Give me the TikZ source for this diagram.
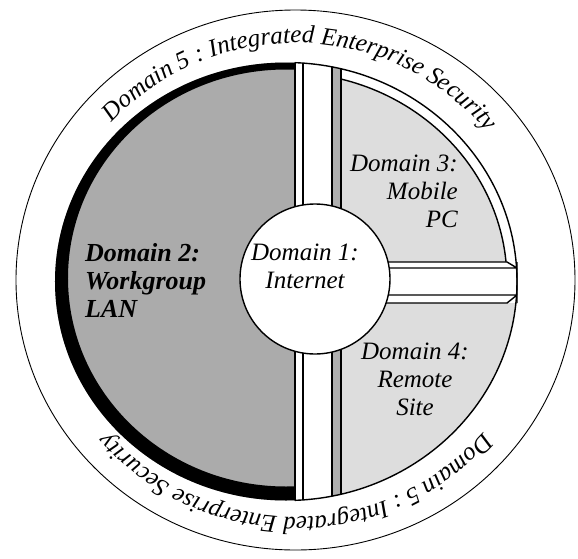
\documentclass[tikz,border=0pt]{standalone}
\usepackage{fontspec}
\setmainfont{Liberation Serif}
\usepackage{tikz}
\usetikzlibrary{decorations.text}
\definecolor{lanGray}{HTML}{ABABAB}
\definecolor{siteGray}{HTML}{DDDDDD}
\definecolor{bevelGray}{HTML}{B0B0B0}
\newcommand\ringfont{\fontsize{25}{25}\selectfont\itshape}

\begin{document}
\begin{tikzpicture}[x=1pt, y=1pt, line join=round,
  edge/.style={line width=1.4pt},
  domainlabel/.style={inner sep=0pt, font=\fontsize{25}{28}\selectfont\itshape},
  ringtext/.style={font=\ringfont, decorate, decoration={text along path, text align=center,
    text={|\ringfont\itshape|Domain 5 : Integrated Enterprise Security}}}
]
\useasboundingbox (-315,-278) rectangle (263,280);

% outer ring
\draw[line width=0.9pt] (-19.5,0) ellipse[x radius=279.5, y radius=270];

% domain 2, left half
\begin{scope}
  \clip (-400,-300) rectangle (-20,300);
  \fill[lanGray] (-29,-1.5) ellipse[x radius=231, y radius=219];
  \fill[even odd rule] (-29,-1.5) ellipse[x radius=231, y radius=219]
    (-29,2) ellipse[x radius=218, y radius=208.5];
\end{scope}

% domains 3 and 4, right half
\begin{scope}
  \clip (26,-300) rectangle (300,300);
  \fill[siteGray] (-29,-1.5) ellipse[x radius=231, y radius=219];
\end{scope}
\begin{scope}
  \clip (26,18) rectangle (300,300);
  \fill[white] (-29,-1.5) ellipse[x radius=231, y radius=219];
  \fill[siteGray, draw=black, edge] (-29,-1.5) ellipse[x radius=221, y radius=209];
\end{scope}

% vertical bar
\begin{scope}
  \clip (-29,-1.5) ellipse[x radius=231, y radius=219];
  \fill[white] (-20,-300) rectangle (26,300);
  \fill[bevelGray] (17,-300) rectangle (26,300);
  \foreach \x in {-20,-12,17,26}
    \draw[edge] (\x,-300) -- (\x,300);
\end{scope}

% horizontal bar
\fill[white] (26,-23) rectangle (202,18);
\draw[edge] (26,18) -- (192,18) -- (202,12)
  (26,12) -- (202,12)
  (26,-15) -- (202,-15)
  (26,-23) -- (192,-23) -- (202,-15)
  (202,18) -- (202,-23);

% rim of the right half
\begin{scope}
  \clip (-20,-300) rectangle (300,300);
  \draw[edge] (-29,-1.5) ellipse[x radius=231, y radius=219];
\end{scope}

% domain 1
\node[circle, draw, edge, fill=white, minimum size=150pt, inner sep=0pt] (hub) at (0,1) {};

\node[domainlabel, anchor=north, align=center] (internet) at (-10,36) {Domain 1:\\Internet};
\node[domainlabel, anchor=north west, align=left,
  font=\fontsize{26}{28}\selectfont\bfseries\itshape] (lan) at (-230,37) {Domain 2:\\Workgroup\\LAN};
\node[domainlabel, anchor=north east, align=right] (mobile) at (143,125) {Domain 3:\\Mobile\\PC};
\node[domainlabel, anchor=north, align=center] (remote) at (100,-63) {Domain 4:\\Remote\\Site};

% domain 5 ring text
\path[ringtext] (-19.5,0) ++(142:245 and 237)
  arc[start angle=142, end angle=35, x radius=245, y radius=237];
\path[ringtext] (-19.5,0) ++(-35:245 and 237)
  arc[start angle=-35, end angle=-145, x radius=245, y radius=237];

\end{tikzpicture}
\end{document}
